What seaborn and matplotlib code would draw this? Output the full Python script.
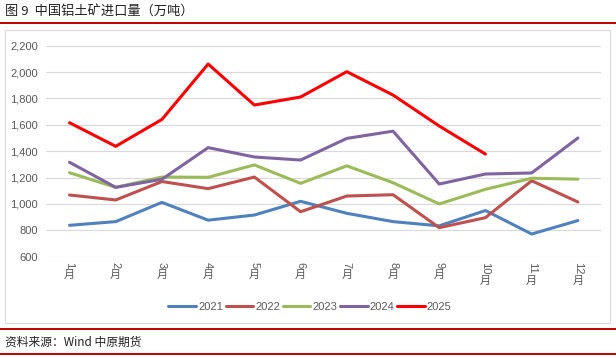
import pandas as pd
import matplotlib.pyplot as plt
import seaborn as sns
from matplotlib.lines import Line2D
from matplotlib.patches import Rectangle
from matplotlib.ticker import FuncFormatter

# 月度进口量（万吨）
months = ['1', '2', '3', '4', '5', '6', '7', '8', '9', '10', '11', '12']
y2021 = [838, 866, 1012, 877, 916, 1020, 929, 866, 834, 950, 772, 874]
y2022 = [1068, 1030, 1170, 1116, 1204, 941, 1060, 1070, 820, 896, 1176, 1015]
y2023 = [1237, 1126, 1204, 1202, 1296, 1156, 1289, 1161, 1000, 1111, 1195, 1188]
y2024 = [1316, 1126, 1187, 1427, 1356, 1333, 1497, 1552, 1151, 1227, 1235, 1500]
y2025 = [1616, 1437, 1641, 2061, 1750, 1811, 2003, 1826, 1591, 1378]

series = {'2021': y2021, '2022': y2022, '2023': y2023, '2024': y2024, '2025': y2025}
colors = {'2021': '#4F81BD', '2022': '#C0504D', '2023': '#9BBB59',
          '2024': '#8064A2', '2025': '#FF0000'}

rows = []
for yr, vals in series.items():
    for i, v in enumerate(vals):
        rows.append({'month': i, 'value': v, 'year': yr})
df = pd.DataFrame(rows)

sns.set_style('white')
plt.rcParams['font.family'] = ['Liberation Sans', 'Noto Sans CJK SC', 'DejaVu Sans']

fig = plt.figure(figsize=(6.16, 3.58), dpi=100)
ax = fig.add_axes([46.4 / 616, 1 - 256.7 / 358, (601 - 46.4) / 616, (256.7 - 45.7) / 358])

sns.lineplot(data=df, x='month', y='value', hue='year', palette=colors,
             linewidth=2.2, ax=ax, legend=True)

ax.set_xlim(-0.5, 11.5)
ax.set_ylim(600, 2200)
ax.set_yticks(range(600, 2201, 200))
ax.yaxis.set_major_formatter(FuncFormatter(lambda v, p: f'{int(v):,}'))
ax.grid(axis='y', color='#D9D9D9', linewidth=0.8)
ax.set_axisbelow(True)
for s in ax.spines.values():
    s.set_visible(False)
ax.tick_params(axis='y', length=0, labelsize=8, labelcolor='#595959', pad=6)
ax.set_xticks(range(12))
ax.set_xticklabels([])
ax.tick_params(axis='x', length=0)
ax.set_xlabel('')
ax.set_ylabel('')

# 竖排月份标签：数字旋转，"月"正立
fs = 8
for i, m in enumerate(months):
    ax.annotate(m, xy=(i, 0), xycoords=('data', 'axes fraction'),
                xytext=(0, -4), textcoords='offset points',
                rotation=-90, ha='center', va='top',
                fontsize=fs, color='#595959')
    ax.annotate('月', xy=(i, 0), xycoords=('data', 'axes fraction'),
                xytext=(0, -4 - len(m) * fs * 0.56 - 1), textcoords='offset points',
                ha='center', va='top',
                fontsize=fs, color='#595959', family='Noto Sans CJK SC')

sns.move_legend(ax, 'center', bbox_to_anchor=(310 / 616, 1 - 307 / 358),
                bbox_transform=fig.transFigure, ncol=5, frameon=False,
                title=None, fontsize=8, handlelength=2.5,
                handletextpad=0.2, columnspacing=0.2, labelcolor='#595959')

# 图框与标题
fig.add_artist(Rectangle((5 / 616, 1 - 323 / 358), 605 / 616, 293 / 358,
                         transform=fig.transFigure, fill=False,
                         edgecolor='#D9D9D9', linewidth=0.8))
fig.text(5 / 616, 1 - 12 / 358, '图 9  中国铝土矿进口量（万吨）', ha='left', va='center',
         fontsize=9.5, family='Noto Sans CJK SC', color='#222222')
fig.add_artist(Line2D([0, 1], [1 - 23 / 358] * 2, transform=fig.transFigure,
                      color='#C00000', linewidth=1.4))
fig.add_artist(Line2D([0, 1], [1 - 329 / 358] * 2, transform=fig.transFigure,
                      color='#C00000', linewidth=1.4))
fig.add_artist(Line2D([0, 1], [1 - 354 / 358] * 2, transform=fig.transFigure,
                      color='#C00000', linewidth=1.4))
fig.text(5 / 616, 1 - 342 / 358, '资料来源：Wind 中原期货', ha='left', va='center',
         fontsize=8.5, family='Noto Sans CJK SC', color='#222222')

fig.savefig('out.png', dpi=100)
